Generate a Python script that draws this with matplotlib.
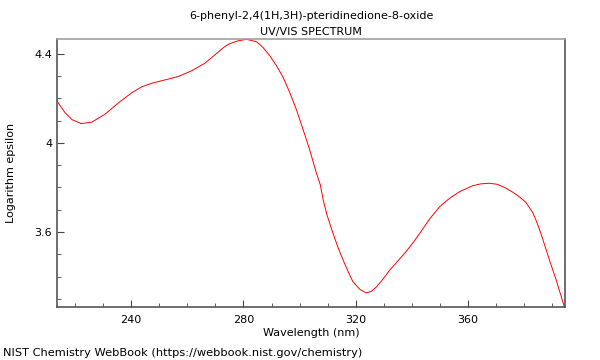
import matplotlib
matplotlib.use('Agg')
from matplotlib import pyplot as plt
from matplotlib.ticker import MultipleLocator

wavelength = [213.7, 216.5, 219.0, 222.2, 226.0, 230.8, 235.5, 240.2, 243.8, 247.4,
              252.1, 256.8, 261.6, 266.3, 269.9, 273.4, 275.2, 278.0, 281.1, 284.7,
              287.0, 289.4, 291.8, 294.2, 296.5, 298.9, 301.3, 303.6, 306.0, 307.4,
              308.4, 309.8, 311.9, 313.7, 315.5, 317.3, 319.0, 321.5, 323.6, 325.5,
              327.4, 329.8, 332.1, 334.7, 337.4, 340.1, 342.8, 346.4, 349.9, 353.5,
              357.0, 361.7, 364.5, 367.6, 370.5, 373.6, 376.0, 378.3, 380.5, 383.0,
              384.3, 385.5, 386.6, 389.0, 391.4, 394.3]
log_eps = [4.186, 4.135, 4.104, 4.087, 4.093, 4.130, 4.180, 4.225, 4.252, 4.268,
           4.283, 4.298, 4.324, 4.358, 4.396, 4.433, 4.446, 4.458, 4.465, 4.454,
           4.428, 4.391, 4.346, 4.293, 4.226, 4.148, 4.058, 3.969, 3.864, 3.811,
           3.744, 3.675, 3.594, 3.530, 3.474, 3.422, 3.377, 3.342, 3.327, 3.333,
           3.354, 3.390, 3.429, 3.466, 3.504, 3.547, 3.594, 3.660, 3.714, 3.752,
           3.781, 3.808, 3.816, 3.819, 3.814, 3.796, 3.778, 3.758, 3.734, 3.688,
           3.650, 3.610, 3.568, 3.474, 3.384, 3.264]

title = '6-phenyl-2,4(1H,3H)-pteridinedione-8-oxide\nUV/VIS SPECTRUM'
footer = 'NIST Chemistry WebBook (https://webbook.nist.gov/chemistry)'

fig = plt.figure(figsize=(6, 3.6), dpi=100)
ax = fig.add_axes([0.095, 0.147, 0.847, 0.745])
ax.plot(wavelength, log_eps, color='red', lw=0.7)

ax.set_xlim(213.6, 394.6)
ax.set_ylim(3.263, 4.467)
ax.xaxis.set_major_locator(MultipleLocator(40))
ax.xaxis.set_minor_locator(MultipleLocator(10))
ax.yaxis.set_minor_locator(MultipleLocator(0.1))
ax.set_yticks([3.6, 4.0, 4.4])
ax.set_yticklabels(['3.6', '4', '4.4'])
ax.tick_params(which='both', direction='in', labelsize=8, color='#444444')
ax.tick_params(which='major', length=5)
ax.tick_params(which='minor', length=3)
ax.tick_params(axis='x', pad=6)

for s in ['left', 'bottom', 'right']:
    ax.spines[s].set_color('#555555')
ax.spines['top'].set_color('#a0a0a0')
for s in ax.spines.values():
    s.set_linewidth(1.2)

ax.set_title(title, fontsize=8, linespacing=1.75, pad=3)
ax.set_xlabel('Wavelength (nm)', fontsize=8, labelpad=2)
ax.set_ylabel('Logarithm epsilon', fontsize=8, labelpad=13)
fig.text(0.005, 0.01, footer, fontsize=8.2)

plt.savefig('out.png')
